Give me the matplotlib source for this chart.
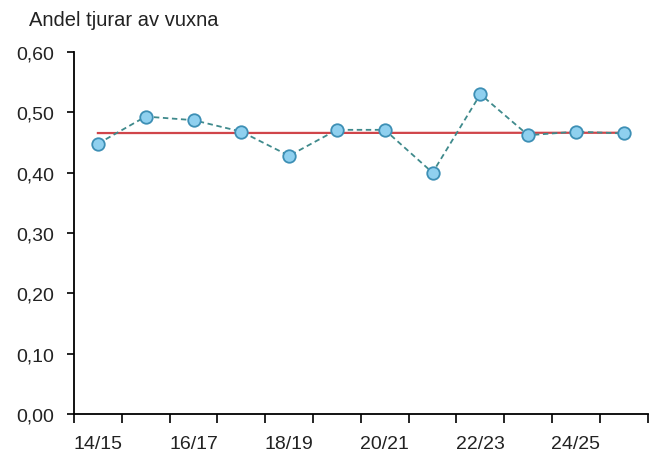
import numpy as np
import matplotlib
matplotlib.use("Agg")
import matplotlib.pyplot as plt
from matplotlib.ticker import FuncFormatter

plt.rcParams["font.family"] = ["Liberation Sans", "DejaVu Sans"]

seasons = ["14/15", "15/16", "16/17", "17/18", "18/19", "19/20",
           "20/21", "21/22", "22/23", "23/24", "24/25", "25/26"]
andel = [0.448, 0.493, 0.487, 0.468, 0.428, 0.471,
         0.471, 0.400, 0.530, 0.462, 0.468, 0.465]

x = np.arange(len(seasons))
k, m = np.polyfit(x, andel, 1)
trend = k * x + m

fig = plt.figure(figsize=(6.49, 4.52), dpi=100)
ax = fig.add_axes([74 / 649, 1 - 415 / 452, 1 - 74 / 649 - 0.002, (415 - 53) / 452])

ax.plot(x, trend, color="#d0454a", lw=1.6, zorder=2)
ax.plot(x, andel, color="#3f8a8c", lw=1.3, ls=(0, (3, 2)), marker="o",
        markersize=9, markerfacecolor="#8fd0ef", markeredgecolor="#3d8fb5",
        markeredgewidth=1.3, zorder=3)

ax.set_xlim(-0.5, len(seasons) - 0.5)
ax.set_ylim(0, 0.6)
ax.set_yticks(np.arange(0, 0.61, 0.1))
ax.yaxis.set_major_formatter(FuncFormatter(lambda v, p: f"{v:.2f}".replace(".", ",")))

# category boundaries as ticks, labels on every other category
ax.set_xticks(np.arange(-0.5, len(seasons), 1))
ax.set_xticklabels([])
ax.set_xticks(x[::2], minor=True)
ax.set_xticklabels(seasons[::2], minor=True)
ax.tick_params(axis="both", which="major", width=1.2, direction="out",
               labelsize=14, colors="black", labelcolor="#222222")
ax.tick_params(axis="x", which="major", length=6.5)
ax.tick_params(axis="y", length=5, pad=9)
ax.tick_params(axis="x", which="minor", length=0, pad=15, labelsize=14,
               labelcolor="#222222")

for s in ["top", "right"]:
    ax.spines[s].set_visible(False)
for s in ["left", "bottom"]:
    ax.spines[s].set_linewidth(1.3)

fig.text(29 / 649, 1 - 21 / 452, "Andel tjurar av vuxna", fontsize=14.5,
         color="#222222", va="center", ha="left")

fig.savefig("out.png", dpi=100)
